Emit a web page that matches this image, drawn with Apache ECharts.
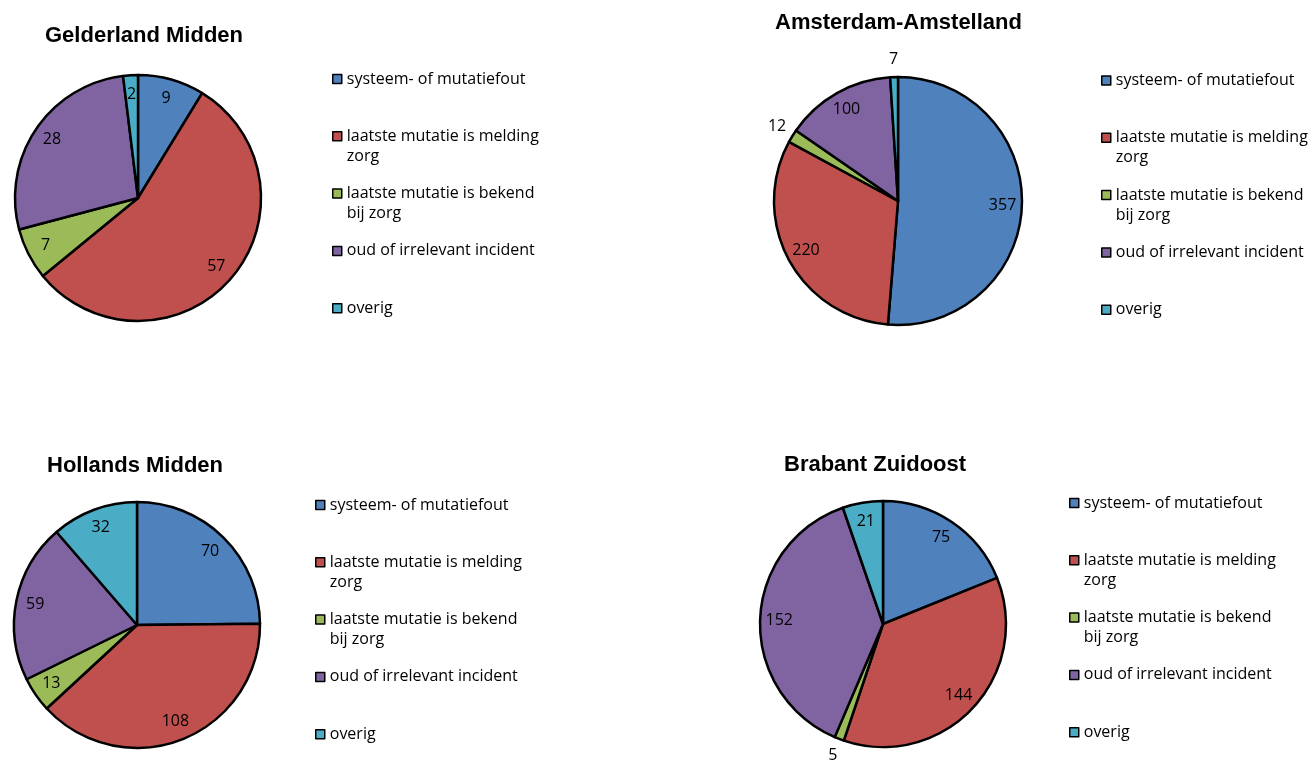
<!DOCTYPE html>
<html><head><meta charset="utf-8">
<script src="https://cdn.jsdelivr.net/npm/echarts@6/dist/echarts.min.js"></script>
<style>html,body{margin:0;padding:0;background:#fff}#c{width:1310px;height:764px}</style>
</head><body><div id="c"></div>
<script>
// ---- data ----
const categories = ['systeem- of mutatiefout', 'laatste mutatie is melding zorg', 'laatste mutatie is bekend bij zorg', 'oud of irrelevant incident', 'overig'];
const legendText = ['systeem- of mutatiefout', 'laatste mutatie is melding\nzorg', 'laatste mutatie is bekend\nbij zorg', 'oud of irrelevant incident', 'overig'];
const regions = ['Gelderland Midden', 'Amsterdam-Amstelland', 'Hollands Midden', 'Brabant Zuidoost'];
const gelderlandMidden = [9, 57, 7, 28, 2];
const amsterdamAmstelland = [357, 220, 12, 100, 7];
const hollandsMidden = [70, 108, 13, 59, 32];
const brabantZuidoost = [75, 144, 5, 152, 21];
const regionValues = [gelderlandMidden, amsterdamAmstelland, hollandsMidden, brabantZuidoost];

// ---- styling / layout ----
const colors = ['#4F81BD', '#C0504D', '#9BBB59', '#8064A2', '#4BACC6'];
const layout = [
  { title: [45, 24.5],  center: [138, 198], r: 123, legend: [332, 79],   outside: [] },
  { title: [775, 11.5], center: [898, 201], r: 124, legend: [1101, 80.5], outside: [2, 4] },
  { title: [47, 454.5], center: [137, 625], r: 123, legend: [315, 505],  outside: [] },
  { title: [784, 453.5], center: [883, 624], r: 123, legend: [1069, 503], outside: [2] }
];
const legendStep = 57.3;
const lineH = 20;
const insideRatio = 0.82, outsideRatio = 1.12;
const labelFont = { fontFamily: 'Open Sans', fontSize: 16, color: '#000' };

const titles = [], legends = [], series = [];
regions.forEach((name, c) => {
  const L = layout[c];
  const vals = regionValues[c];
  titles.push({
    text: name, left: L.title[0], top: L.title[1], padding: 0,
    textStyle: { fontFamily: 'Liberation Sans', fontWeight: 'bold', fontSize: 22, lineHeight: 22, color: '#000' }
  });
  categories.forEach((cat, i) => {
    const twoLine = legendText[i].indexOf('\n') >= 0;
    const y = L.legend[1] + i * legendStep;
    legends.push({
      data: [cat], orient: 'vertical', left: L.legend[0], top: twoLine ? y - 1.5 * lineH : y - 0.5 * lineH,
      padding: 0, icon: 'rect', itemWidth: 9, itemHeight: 9, selectedMode: false,
      itemStyle: { borderColor: '#000', borderWidth: 1.5 },
      // a leading empty line keeps the marker level with the first text line
      formatter: () => (twoLine ? ' \n' : '') + legendText[i],
      textStyle: { fontFamily: 'Open Sans', fontSize: 16, lineHeight: lineH, color: '#000' }
    });
  });
  const base = vals.map((v, i) => ({ name: categories[i], value: v, itemStyle: { color: colors[i] } }));
  series.push({
    type: 'pie', center: L.center, radius: [0, L.r], startAngle: 90, clockwise: true,
    silent: true, animation: false, emphasis: { disabled: true },
    label: { show: false }, labelLine: { show: false },
    itemStyle: { borderColor: '#000', borderWidth: 2.5 },
    data: base
  });
  const overlay = (ratio, showFn, z) => ({
    type: 'pie', center: L.center, radius: [0, 2 * ratio * L.r], startAngle: 90, clockwise: true,
    silent: true, animation: false, emphasis: { disabled: true }, z: z,
    itemStyle: { color: 'rgba(0,0,0,0)', borderWidth: 0 },
    labelLine: { show: false },
    label: Object.assign({ show: true, position: 'inside', formatter: '{c}' }, labelFont),
    data: vals.map((v, i) => ({ name: categories[i], value: v, label: { show: showFn(i) }, itemStyle: { color: 'rgba(0,0,0,0)', borderWidth: 0 } }))
  });
  series.push(overlay(insideRatio, i => L.outside.indexOf(i) < 0, 5));
  series.push(overlay(outsideRatio, i => L.outside.indexOf(i) >= 0, 5));
});

const chart = echarts.init(document.getElementById('c'), null, { renderer: 'canvas' });
chart.setOption({
  backgroundColor: '#fff',
  animation: false,
  color: colors,
  title: titles,
  legend: legends,
  series: series
});
</script>
</body></html>
